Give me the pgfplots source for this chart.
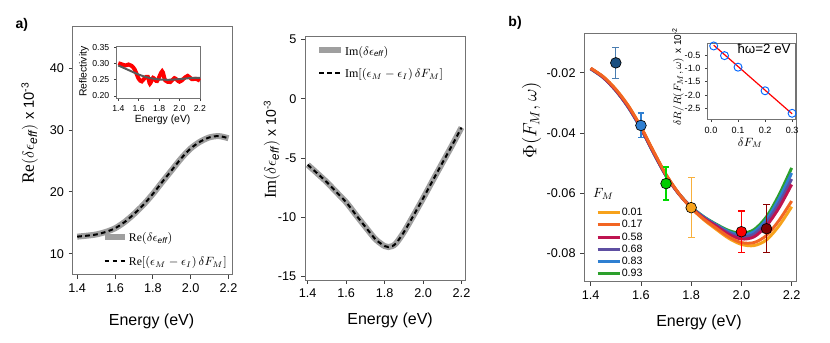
\documentclass[border=0pt]{standalone}
\usepackage{pgfplots}
\usepackage{pgfplotstable}
\pgfplotsset{compat=1.18}
\usepackage{fontspec}
\setmainfont{Liberation Sans}
\newfontfamily\tnr{Liberation Serif}

\definecolor{cA}{HTML}{F7A21B}
\definecolor{cB}{HTML}{F26522}
\definecolor{cC}{HTML}{BE1450}
\definecolor{cD}{HTML}{5E4FA2}
\definecolor{cE}{HTML}{2F7FD1}
\definecolor{cF}{HTML}{2CA02C}
\definecolor{pA}{HTML}{1B4F80}
\definecolor{eA}{HTML}{4A7DB0}

% Re and Im parts of delta eps_eff (x 10^-3)
\pgfplotstableread{
E    re
1.40 12.75
1.45 12.90
1.50 13.10
1.55 13.50
1.60 14.10
1.65 15.10
1.70 16.40
1.75 17.90
1.80 19.65
1.85 21.60
1.90 23.50
1.95 25.40
2.00 27.00
2.05 28.10
2.10 28.80
2.15 29.00
2.20 28.65
}\redata
\pgfplotstableread{
E    im
1.40 -5.56
1.45 -6.29
1.50 -7.04
1.55 -7.88
1.60 -8.72
1.65 -9.77
1.70 -10.80
1.75 -11.80
1.78 -12.20
1.80 -12.42
1.82 -12.50
1.84 -12.42
1.86 -12.18
1.90 -11.25
1.95 -9.85
2.00 -8.40
2.05 -6.90
2.10 -5.42
2.15 -3.95
2.20 -2.42
}\imdata

% reflectivity, measured (red) and fit (gray)
\pgfplotstableread{
E    R
1.40 0.301
1.43 0.298
1.47 0.294
1.50 0.297
1.53 0.293
1.56 0.282
1.60 0.253
1.63 0.245
1.66 0.256
1.69 0.259
1.71 0.238
1.74 0.256
1.78 0.246
1.83 0.276
1.86 0.248
1.91 0.243
1.95 0.255
2.00 0.244
2.04 0.253
2.08 0.262
2.12 0.252
2.16 0.253
2.20 0.247
}\reflmeas
\pgfplotstableread{
E   R
1.4 0.294
1.5 0.280
1.6 0.266
1.7 0.256
1.8 0.251
1.9 0.250
2.0 0.252
2.1 0.255
2.2 0.256
}\reflfit

% Phi(F_M, omega) for the six F_M values
\pgfplotstableread{
E    a       b       c       d       e       f
1.40 -0.0185 -0.0185 -0.0186 -0.0186 -0.0187 -0.0187
1.45 -0.0213 -0.0213 -0.0215 -0.0215 -0.0216 -0.0216
1.50 -0.0255 -0.0255 -0.0258 -0.0258 -0.0259 -0.0259
1.55 -0.0310 -0.0310 -0.0313 -0.0314 -0.0315 -0.0315
1.60 -0.0380 -0.0380 -0.0383 -0.0384 -0.0385 -0.0385
1.65 -0.0461 -0.0461 -0.0464 -0.0465 -0.0466 -0.0466
1.70 -0.0538 -0.0538 -0.0541 -0.0541 -0.0542 -0.0542
1.75 -0.0600 -0.0600 -0.0601 -0.0601 -0.0601 -0.0601
1.80 -0.0649 -0.0649 -0.0648 -0.0647 -0.0646 -0.0645
1.85 -0.0688 -0.0686 -0.0683 -0.0681 -0.0679 -0.0678
1.90 -0.0720 -0.0716 -0.0710 -0.0707 -0.0705 -0.0703
1.95 -0.0750 -0.0745 -0.0737 -0.0732 -0.0728 -0.0724
2.00 -0.0770 -0.0764 -0.0752 -0.0745 -0.0739 -0.0733
2.05 -0.0774 -0.0764 -0.0745 -0.0736 -0.0728 -0.0721
2.10 -0.0755 -0.0740 -0.0708 -0.0697 -0.0687 -0.0678
2.15 -0.0708 -0.0690 -0.0648 -0.0633 -0.0618 -0.0605
2.20 -0.0645 -0.0626 -0.0571 -0.0553 -0.0533 -0.0516
}\phidata

\pgfplotsset{
  igor/.style={
    scale only axis, anchor=south west,
    axis line style={black!55, line width=0.7pt},
    tick align=outside, tick pos=left,
    major tick length=3pt,
    every tick/.style={black!75, line width=0.6pt},
    /pgf/number format/assume math mode=true,
    scaled ticks=false,
    tick label style={font=\fontsize{9.5}{10}\selectfont},
    label style={font=\fontsize{12}{14}\selectfont},
  },
  energy/.style={
    xtick={1.4,1.6,1.8,2.0,2.2},
    x tick label style={/pgf/number format/.cd, fixed, fixed zerofill, precision=1, /tikz/.cd},
    xlabel={Energy (eV)},
  },
  datapt/.style n args={3}{forget plot, only marks, mark=*, mark size=4pt,
    mark options={fill=#1, draw=black, line width=0.5pt},
    error bars/.cd, y dir=both, y explicit,
    error bar style={#2, line width=1pt},
    error mark options={rotate=90, mark size=#3, #2, line width=1pt}},
}

\begin{document}
\begin{tikzpicture}
\path[use as bounding box] (0,0) rectangle (622.5pt,256.5pt);
\node[font=\bfseries\fontsize{10.5}{12}\selectfont] at (16.3pt,237.8pt) {a)};
\node[font=\bfseries\fontsize{10.5}{12}\selectfont] at (386.3pt,239pt) {b)};

% ---- a) real part
\begin{axis}[igor, energy,
  at={(54.5pt,50.3pt)}, width=119.7pt, height=186.7pt,
  xmin=1.376, xmax=2.22, ymin=6.56, ymax=46.8,
  ytick={10,20,30,40},
  ylabel={{\tnr\fontsize{13}{13}\selectfont Re$(\delta\epsilon_{\mathit{eff}})$} {\fontsize{11}{12}\selectfont x 10\textsuperscript{-3}}},
  ylabel style={at={(axis description cs:-0.27,0.57)}, anchor=center},
  xlabel style={at={(axis description cs:0.494,-0.185)}, anchor=center},
  legend style={at={(1.0,0.19)}, anchor=north east, draw=none, fill=none,
    font=\tnr\fontsize{8.8}{11}\selectfont, row sep=6pt,
    nodes={inner sep=1pt, text height=7.5pt, text depth=2.5pt}},
  legend cell align=left,
  legend image code/.code={\draw[#1] (0pt,1pt) -- (15pt,1pt);},
]
\addplot[gray!75, line width=4.5pt, smooth] table[x=E, y=re] {\redata};
\addlegendentry{Re$(\delta\epsilon_{\mathit{eff}})$}
\addplot[black, line width=1.5pt, dash pattern=on 3.5pt off 2.5pt, smooth] table[x=E, y=re] {\redata};
\addlegendentry{Re$[(\epsilon_M-\epsilon_I)\,\delta F_M]$}
\end{axis}

% inset reflectivity
\begin{axis}[igor, energy,
  at={(87.5pt,182.8pt)}, width=63.2pt, height=39.2pt,
  xmin=1.384, xmax=2.21, ymin=0.193, ymax=0.354,
  ytick={0.20,0.25,0.30,0.35},
  y tick label style={/pgf/number format/.cd, fixed, fixed zerofill, precision=2, /tikz/.cd},
  tick label style={font=\fontsize{6.5}{7}\selectfont},
  label style={font=\fontsize{7.8}{9}\selectfont},
  major tick length=2pt,
  ylabel={Reflectivity},
  ylabel style={at={(axis description cs:-0.388,0.51)}, anchor=center},
  xlabel style={at={(axis description cs:0.546,-0.415)}, anchor=center},
]
\addplot[red, line width=3pt, smooth] table[x=E, y=R] {\reflmeas};
\addplot[black!65, line width=1.5pt, smooth] table[x=E, y=R] {\reflfit};
\end{axis}

% ---- a) imaginary part
\begin{axis}[igor, energy,
  at={(228.75pt,46.5pt)}, width=120.4pt, height=183pt,
  xmin=1.386, xmax=2.221, ymin=-15.28, ymax=5.3,
  ytick={-15,-10,-5,0,5},
  ylabel={{\tnr\fontsize{12.5}{13}\selectfont Im$(\delta\epsilon_{\mathit{eff}})$} {\fontsize{10.5}{12}\selectfont x 10\textsuperscript{-3}}},
  ylabel style={at={(axis description cs:-0.207,0.535)}, anchor=center},
  xlabel style={at={(axis description cs:0.53,-0.164)}, anchor=center},
  legend style={at={(0.044,0.98)}, anchor=north west, draw=none, fill=none,
    font=\tnr\fontsize{9}{11}\selectfont, row sep=5pt,
    nodes={inner sep=1pt, text height=7.5pt, text depth=2.5pt}},
  legend cell align=left,
  legend image code/.code={\draw[#1] (0pt,1pt) -- (16pt,1pt);},
]
\addplot[gray!75, line width=4.5pt, smooth] table[x=E, y=im] {\imdata};
\addlegendentry{Im$(\delta\epsilon_{\mathit{eff}})$}
\addplot[black, line width=1.5pt, dash pattern=on 3.5pt off 2.5pt, smooth] table[x=E, y=im] {\imdata};
\addlegendentry{Im$[(\epsilon_M-\epsilon_I)\,\delta F_M]$}
\end{axis}

% ---- b) Phi
\begin{axis}[igor, energy,
  at={(438.2pt,45.2pt)}, width=159.3pt, height=186.3pt,
  xmin=1.3745, xmax=2.22, ymin=-0.0894, ymax=-0.0069,
  ytick={-0.08,-0.06,-0.04,-0.02},
  y tick label style={/pgf/number format/.cd, fixed, fixed zerofill, precision=2, /tikz/.cd},
  ylabel={{\fontsize{14}{14}\selectfont$\Phi(F_M,\omega)$}},
  ylabel style={at={(axis description cs:-0.248,0.65)}, anchor=center},
  xlabel style={at={(axis description cs:0.54,-0.162)}, anchor=center},
  legend style={at={(0.036,0.313)}, anchor=north west, draw=none, fill=none,
    font=\fontsize{8}{9}\selectfont, row sep=0.7pt,
    nodes={inner sep=0.5pt, text height=6pt, text depth=1.5pt}},
  legend cell align=left,
  legend image code/.code={\draw[#1] (0pt,0pt) -- (16.5pt,0pt);},
  clip=false,
]
\addplot[cA, line width=2.2pt, smooth] table[x=E, y=a] {\phidata};
\addlegendentry{0.01}
\addplot[cF, line width=2.2pt, smooth, forget plot] table[x=E, y=f] {\phidata};
\addplot[cE, line width=2.2pt, smooth, forget plot] table[x=E, y=e] {\phidata};
\addplot[cD, line width=2.2pt, smooth, forget plot] table[x=E, y=d] {\phidata};
\addplot[cC, line width=2.2pt, smooth, forget plot] table[x=E, y=c] {\phidata};
\addplot[cB, line width=2.2pt, smooth] table[x=E, y=b] {\phidata};
\addlegendentry{0.17}
\addlegendimage{cC, line width=2.2pt}
\addlegendentry{0.58}
\addlegendimage{cD, line width=2.2pt}
\addlegendentry{0.68}
\addlegendimage{cE, line width=2.2pt}
\addlegendentry{0.83}
\addlegendimage{cF, line width=2.2pt}
\addlegendentry{0.93}
\node[font=\fontsize{10}{11}\selectfont] at (rel axis cs:0.09,0.355) {$F_M$};

% measured points with error bars
\addplot[datapt={pA}{eA}{2.5pt}] coordinates {(1.5,-0.0167) +- (0,0.0051)};
\addplot[datapt={cE}{cE}{2.5pt}] coordinates {(1.6,-0.0375) +- (0,0.0041)};
\addplot[datapt={green!80!black}{green!85!black}{2.5pt}] coordinates {(1.7,-0.0568) +- (0,0.0055)};
\addplot[datapt={cA}{cA!85!white}{2.5pt}] coordinates {(1.8,-0.0648) +- (0,0.0100)};
\addplot[datapt={red}{red}{2.5pt}] coordinates {(2.0,-0.0728) +- (0,0.0069)};
\addplot[datapt={red!50!black}{red!55!black}{2.5pt}] coordinates {(2.1,-0.0718) +- (0,0.0080)};
\end{axis}

% inset delta R / R vs delta F_M
\begin{axis}[igor,
  at={(530.8pt,167pt)}, width=65.5pt, height=57pt,
  axis background/.style={fill=white},
  xmin=-0.012, xmax=0.311, ymin=-2.93, ymax=-0.03,
  xtick={0,0.1,0.2,0.3}, ytick={-2.5,-2,-1.5,-1,-0.5},
  x tick label style={/pgf/number format/.cd, fixed, fixed zerofill, precision=1, /tikz/.cd},
  y tick label style={/pgf/number format/.cd, fixed, fixed zerofill, precision=1, /tikz/.cd},
  tick label style={font=\fontsize{6.8}{7.5}\selectfont},
  major tick length=2pt,
  ylabel={{\tnr\fontsize{8.5}{9}\selectfont$\delta R/R(F_M,\omega)$} {\fontsize{7.5}{9}\selectfont x 10\textsuperscript{-2}}},
  ylabel style={at={(axis description cs:-0.34,0.56)}, anchor=center},
  xlabel={{\fontsize{9}{10}\selectfont$\delta F_M$}},
  xlabel style={at={(axis description cs:0.487,-0.31)}, anchor=center},
  clip=false,
]
\addplot[red, line width=0.9pt] coordinates {(0.01,-0.10) (0.30,-2.72)};
\addplot[only marks, mark=o, mark size=3pt, mark options={blue!60!cyan, fill=white, line width=0.7pt}]
  coordinates {(0.01,-0.13) (0.05,-0.50) (0.10,-0.94) (0.20,-1.84) (0.30,-2.70)};
\node[font=\fontsize{10}{11}\selectfont] at (rel axis cs:0.645,0.93) {ħω=2 eV};
\end{axis}
\end{tikzpicture}
\end{document}
